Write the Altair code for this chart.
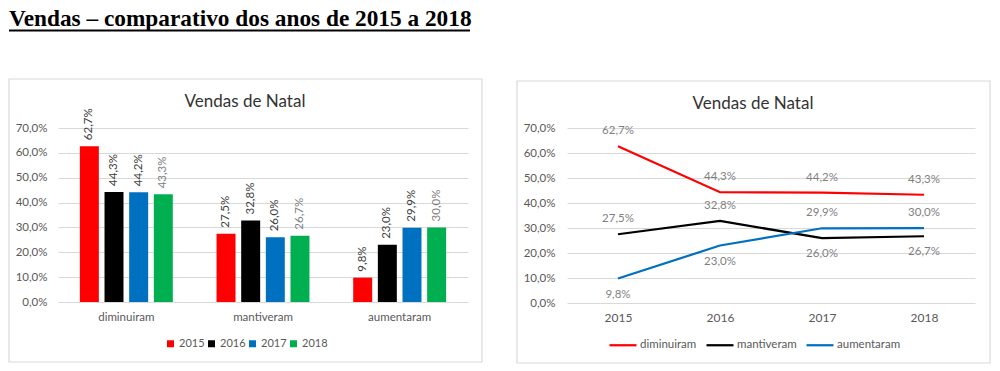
import altair as alt
import pandas as pd

# ---------------- data ----------------
titulo_pagina = "Vendas – comparativo dos anos de 2015 a 2018"
titulo_grafico = "Vendas de Natal"
categorias = ["diminuiram", "mantiveram", "aumentaram"]
anos = ["2015", "2016", "2017", "2018"]
v2015 = [0.627, 0.275, 0.098]
v2016 = [0.443, 0.328, 0.230]
v2017 = [0.442, 0.260, 0.299]
v2018 = [0.433, 0.267, 0.300]
y_ticks = [0.0, 0.1, 0.2, 0.3, 0.4, 0.5, 0.6, 0.7]

cores_anos = ["#FF0000", "#000000", "#0070C0", "#00B050"]
cores_series = ["#FF0000", "#000000", "#0070C0"]

rows = []
for ano, vals in zip(anos, [v2015, v2016, v2017, v2018]):
    for cat, v in zip(categorias, vals):
        rows.append({"ano": ano, "categoria": cat, "valor": v})
df = pd.DataFrame(rows)
df["minimo"] = df.groupby("ano")["valor"].transform("min") == df["valor"]

deco = pd.DataFrame({"t": [titulo_grafico], "p": [titulo_pagina]})

FONT = "Lato"
GRID = "#D9D9D9"
LBL = "#595959"
FS = 11.5

yscale = alt.Scale(domain=[0, 0.7], nice=False, zero=True)


def yaxis(pad):
    return alt.Axis(values=y_ticks, format=".1%", title=None, domain=False,
                    ticks=False, labelPadding=pad, labelFontSize=FS,
                    labelColor=LBL, gridColor=GRID, gridWidth=1)


# ---------------- left: bar chart ----------------
W1, H1 = 410, 174
YA1 = yaxis(11)

box1 = alt.Chart(deco).mark_rect(filled=False, stroke=GRID, strokeWidth=1.2).encode(
    x=alt.value(-49), x2=alt.value(424), y=alt.value(-49), y2=alt.value(234))

page_title = alt.Chart(deco).mark_text(
    font="Liberation Serif", fontSize=23.3, fontWeight="bold", align="left",
    baseline="alphabetic", color="black").encode(
    x=alt.value(-49), y=alt.value(-102), text="p:N")

underline = alt.Chart(deco).mark_rule(color="black", strokeWidth=2).encode(
    x=alt.value(-49), x2=alt.value(412), y=alt.value(-97.5))

title1 = alt.Chart(deco).mark_text(fontSize=17, color="#333333", align="center",
                                   baseline="alphabetic").encode(
    x=alt.value(187), y=alt.value(-21), text="t:N")

xb = alt.X("categoria:N", sort=categorias,
           scale=alt.Scale(paddingInner=0.32, paddingOuter=0.16),
           axis=alt.Axis(title=None, labelAngle=0, domain=False, ticks=False,
                         labelPadding=9, labelFontSize=FS, labelColor=LBL))
xo = alt.XOffset("ano:N", sort=anos, scale=alt.Scale(paddingInner=0.23, paddingOuter=0))
yb = alt.Y("valor:Q", scale=yscale, axis=YA1)

bars = alt.Chart(df).mark_bar().encode(
    x=xb, xOffset=xo, y=yb,
    color=alt.Color("ano:N", sort=anos,
                    scale=alt.Scale(domain=anos, range=cores_anos),
                    legend=alt.Legend(orient="none", legendX=107, legendY=210,
                                      direction="horizontal",
                                      title=None, symbolType="square",
                                      symbolSize=49, symbolStrokeWidth=0,
                                      labelFontSize=11, labelColor=LBL,
                                      columnPadding=1, labelOffset=3, padding=0)))

bar_labels = alt.Chart(df).mark_text(angle=270, align="left", baseline="middle",
                                     dx=6, fontSize=11.5).encode(
    x=xb, xOffset=xo, y=yb,
    text=alt.Text("valor:Q", format=".1%"),
    color=alt.condition(alt.datum.ano == "2018", alt.value("#808080"), alt.value("#404040")))

left = alt.layer(box1, page_title, underline, title1, bars, bar_labels).properties(
    width=W1, height=H1)

# ---------------- right: line chart ----------------
W2, H2 = 408, 175
YA2 = yaxis(12)

box2 = alt.Chart(deco).mark_rect(filled=False, stroke=GRID, strokeWidth=1.2).encode(
    x=alt.value(-50), x2=alt.value(423), y=alt.value(-47), y2=alt.value(235))

title2 = alt.Chart(deco).mark_text(fontSize=17, color="#333333", align="center",
                                   baseline="alphabetic").encode(
    x=alt.value(186), y=alt.value(-19), text="t:N")

xl = alt.X("ano:O", sort=anos, scale=alt.Scale(type="point", padding=0.5),
           axis=alt.Axis(title=None, labelAngle=0, domain=False, ticks=False,
                         grid=False, labelPadding=9, labelFontSize=12,
                         labelColor=LBL))
yl = alt.Y("valor:Q", scale=yscale, axis=YA2)

lines = alt.Chart(df).mark_line(strokeWidth=2.25).encode(
    x=xl, y=yl,
    color=alt.Color("categoria:N", sort=categorias,
                    scale=alt.Scale(domain=categorias, range=cores_series),
                    legend=alt.Legend(orient="none", legendX=41, legendY=202,
                                      direction="horizontal",
                                      title=None, symbolType="stroke",
                                      symbolSize=729, symbolStrokeWidth=2.25,
                                      labelFontSize=11.5, labelColor=LBL,
                                      columnPadding=5, labelOffset=2, padding=0)))

lab_above = alt.Chart(df).transform_filter("!datum.minimo").mark_text(
    dy=-15, fontSize=11.5, color="#7F7F7F").encode(
    x=xl, y=yl, text=alt.Text("valor:Q", format=".1%"))

lab_below = alt.Chart(df).transform_filter("datum.minimo").mark_text(
    dy=16, fontSize=11.5, color="#7F7F7F").encode(
    x=xl, y=yl, text=alt.Text("valor:Q", format=".1%"))

right = alt.layer(box2, title2, lines, lab_above, lab_below).properties(
    width=W2, height=H2)

chart = alt.hconcat(left, right, spacing=99, bounds="flush").resolve_scale(
    color="independent", x="independent", y="independent"
).properties(padding={"left": 0, "right": 0, "top": -1, "bottom": 0}).configure(
    font=FONT,
    locale={"number": {"decimal": ",", "thousands": ".", "grouping": [3],
                       "currency": ["", " €"]}},
).configure_view(strokeWidth=0)

chart.save("out.html", embed_options={"renderer": "svg", "actions": False})
